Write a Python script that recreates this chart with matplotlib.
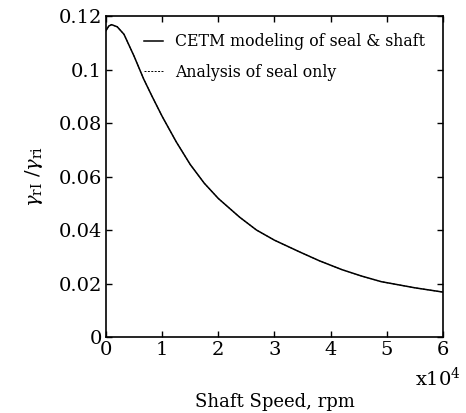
import matplotlib
matplotlib.use("Agg")
import matplotlib.pyplot as plt

# shaft speed in units of 1e4 rpm
speed = [0.0, 0.05, 0.1, 0.2, 0.32, 0.5, 0.67, 0.82, 1.0, 1.25, 1.5, 1.75,
         2.0, 2.38, 2.68, 3.0, 3.45, 3.8, 4.2, 4.55, 4.9, 5.5, 6.0]
cetm = [0.1146, 0.1163, 0.1168, 0.1160, 0.1132, 0.1050, 0.0965, 0.0900, 0.0825,
        0.0730, 0.0645, 0.0575, 0.0518, 0.0448, 0.0400, 0.0362, 0.0318, 0.0285,
        0.0252, 0.0228, 0.0207, 0.0184, 0.0168]
seal_only = list(cetm)

plt.rcParams['font.family'] = ['DejaVu Serif']
plt.rcParams['mathtext.fontset'] = 'dejavuserif'

fig = plt.figure(figsize=(4.66, 4.13), dpi=100)
ax = fig.add_axes([0.2275, 0.184, 0.723, 0.777])

ax.plot(speed, seal_only, color='black', lw=0.7, ls=(0, (2, 1.5)),
        label='Analysis of seal only', zorder=2)
ax.plot(speed, cetm, color='black', lw=1.1, label='CETM modeling of seal & shaft', zorder=3)

ax.set_xlim(0, 6)
ax.set_ylim(0, 0.12)
ax.set_xticks([0, 1, 2, 3, 4, 5, 6])
ax.set_xticklabels(['0', '1', '2', '3', '4', '5', '6'])
ax.set_yticks([0, 0.02, 0.04, 0.06, 0.08, 0.1, 0.12])
ax.set_yticklabels(['0', '0.02', '0.04', '0.06', '0.08', '0.1', '0.12'])
ax.tick_params(direction='in', length=4, width=1, labelsize=14, top=True, right=True, pad=3)
for s in ax.spines.values():
    s.set_linewidth(1.2)

handles, labels = ax.get_legend_handles_labels()
ax.legend(handles[::-1], labels[::-1], loc='upper right', frameon=False, fontsize=11.3,
          handlelength=1.2, handletextpad=0.8, labelspacing=0.85,
          bbox_to_anchor=(0.99, 0.99))

ax.set_xlabel('Shaft Speed, rpm', fontsize=13, labelpad=24)
ax.set_ylabel(r'$\gamma_{\rm rI}\ /\gamma_{\rm ri}$', fontsize=14, labelpad=10)
fig.text(0.94, 0.055, r'x10$^4$', fontsize=14, ha='center', va='bottom')

fig.savefig('out.png', dpi=100)
